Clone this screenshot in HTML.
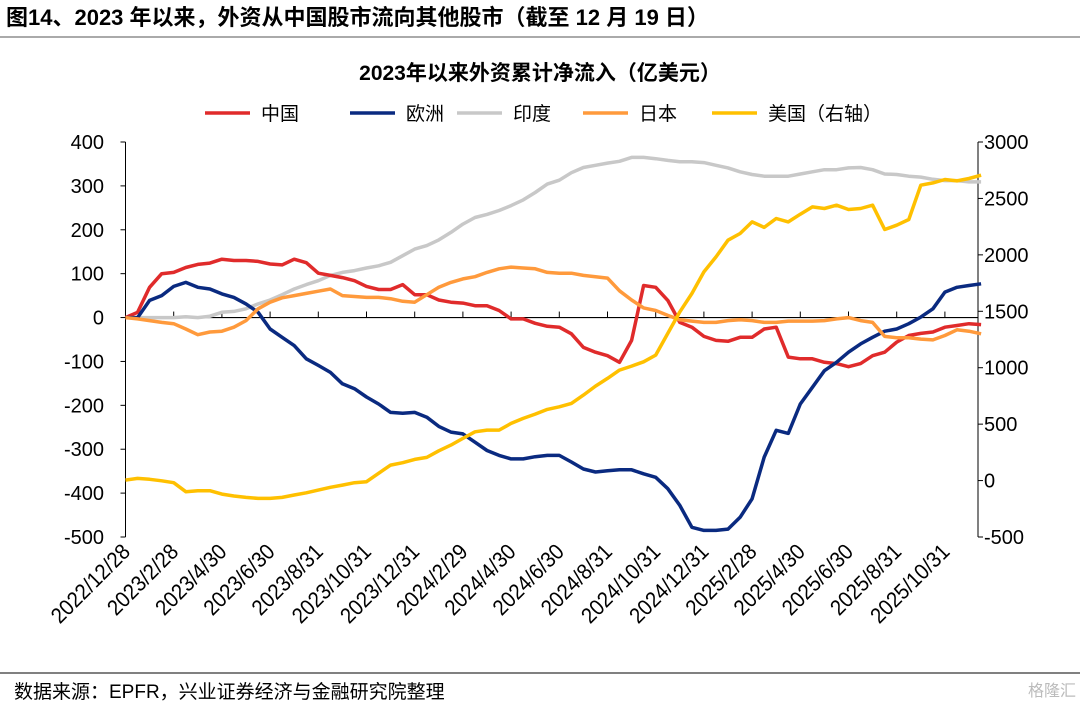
<!DOCTYPE html>
<html><head><meta charset="utf-8">
<style>
body{margin:0;background:#fff;width:1080px;height:706px;overflow:hidden;font-family:"Liberation Sans","Noto Sans CJK SC",sans-serif;}
</style></head>
<body>
<svg id="chart" width="1080" height="706" xmlns="http://www.w3.org/2000/svg" font-family="Liberation Sans, Noto Sans CJK SC, sans-serif">
<text x="6" y="25" font-size="22" font-weight="bold" fill="#000">图14、2023 年以来，外资从中国股市流向其他股市（截至 12 月 19 日）</text>
<line x1="0" y1="37" x2="1080" y2="37" stroke="#555" stroke-width="1"/>
<text x="540" y="80" text-anchor="middle" font-size="21" font-weight="bold" fill="#000">2023年以来外资累计净流入（亿美元）</text>
<g id="legend"></g>
<g id="axes"></g>
<g id="series"></g>
<line x1="0" y1="673" x2="1080" y2="673" stroke="#000" stroke-width="1"/>
<text x="14" y="698" font-size="19" fill="#000">数据来源：EPFR，兴业证券经济与金融研究院整理</text>
<text x="1076" y="696" text-anchor="end" font-size="16" fill="#bbb">格隆汇</text>
</svg>
<script>
const dateLabels=["2022/12/28","2023/2/28","2023/4/30","2023/6/30","2023/8/31","2023/10/31","2023/12/31","2024/2/29","2024/4/30","2024/6/30","2024/8/31","2024/10/31","2024/12/31","2025/2/28","2025/4/30","2025/6/30","2025/8/31","2025/10/31"];
const leftTicks=[400,300,200,100,0,-100,-200,-300,-400,-500];
const rightTicks=[3000,2500,2000,1500,1000,500,0,-500];
const seriesNames=["中国","欧洲","印度","日本","美国（右轴）"];
const china=[0,12,69,100,103,114,121,124,133,130,130,128,122,120,133,125,101,96,91,84,71,64,64,75,52,52,40,35,33,27,27,16,-3,-3,-13,-20,-22,-37,-68,-79,-87,-102,-52,73,69,39,-11,-22,-43,-52,-54,-45,-45,-26,-22,-90,-94,-94,-102,-105,-112,-105,-87,-79,-56,-41,-36,-33,-22,-18,-14,-16];
const europe=[0,0,39,50,71,80,69,65,54,46,31,12,-26,-45,-64,-94,-109,-125,-151,-162,-181,-197,-216,-218,-216,-227,-248,-261,-265,-284,-303,-314,-322,-322,-317,-314,-314,-329,-345,-352,-349,-347,-347,-356,-364,-390,-428,-478,-485,-485,-482,-455,-413,-318,-257,-264,-197,-159,-121,-102,-79,-60,-45,-31,-26,-14,1,20,58,69,73,77];
const india=[0,0,0,0,0,2,0,3,12,14,20,31,40,52,65,75,84,96,103,107,113,118,126,141,156,164,177,194,213,228,235,244,255,268,285,304,313,330,342,347,352,356,365,365,362,358,355,355,353,347,341,332,326,322,322,322,327,332,337,337,341,342,337,327,326,322,320,315,312,312,309,309];
const japan=[0,-3,-7,-11,-14,-26,-39,-33,-31,-22,-7,20,35,45,50,55,60,65,50,48,46,46,43,37,35,52,69,80,88,93,103,111,115,113,111,103,101,101,96,93,90,61,40,22,16,5,-5,-8,-11,-11,-7,-5,-7,-11,-11,-8,-8,-8,-7,-3,0,-7,-11,-43,-46,-46,-49,-51,-41,-28,-31,-37];
const usa=[4,19,11,-2,-19,-99,-90,-90,-120,-137,-149,-158,-158,-149,-128,-108,-84,-60,-40,-19,-10,64,137,158,188,205,264,314,374,432,447,447,507,551,589,631,654,684,757,837,905,979,1014,1052,1112,1304,1495,1658,1849,1982,2130,2189,2292,2243,2322,2292,2360,2425,2411,2440,2402,2411,2440,2225,2263,2313,2617,2638,2668,2655,2677,2706];
const colors=["#e02b2b","#0a2a80","#c8c8c8","#ff9a3c","#ffc000"];

const NS="http://www.w3.org/2000/svg";
const X0=125.5,X1=978,YT=142,YB=537,STEP=0.5,MONTHPX=24.1;
function xT(i){return X0+i*STEP*MONTHPX;}
function yL(v){return YT+(400-v)/900*(YB-YT);}
function yR(v){return YT+(3000-v)/3500*(YB-YT);}
function mk(tag,attrs,parent){const e=document.createElementNS(NS,tag);for(const k in attrs)e.setAttribute(k,attrs[k]);parent.appendChild(e);return e;}
const axes=document.getElementById('axes'),ser=document.getElementById('series'),leg=document.getElementById('legend');

let la=mk('line',{x1:X0,y1:YT,x2:X0,y2:YB,stroke:'#000','stroke-width':1},axes);


leftTicks.forEach(v=>{const y=yL(v);
 mk('line',{x1:X0-5,y1:y,x2:X0,y2:y,stroke:'#000'},axes);
 const t=mk('text',{x:104,y:y+7,'text-anchor':'end','font-size':20,fill:'#000'},axes);t.textContent=v;
 
 });
let ra=mk('line',{x1:X1,y1:YT,x2:X1,y2:YB,stroke:'#000','stroke-width':1},axes);


rightTicks.forEach(v=>{const y=yR(v);
 mk('line',{x1:X1,y1:y,x2:X1+5,y2:y,stroke:'#000'},axes);
 const t=mk('text',{x:984,y:y+7,'font-size':20,fill:'#000'},axes);t.textContent=v;
 
 });
const y0=yL(0);
let xa=mk('line',{x1:X0,y1:y0,x2:X1,y2:y0,stroke:'#000','stroke-width':1.2},axes);


dateLabels.forEach((d,k)=>{const x=X0+k*2*MONTHPX;
 mk('line',{x1:x,y1:y0-6,x2:x,y2:y0,stroke:'#000'},axes);
 const t=mk('text',{x:0,y:0,'text-anchor':'end','font-size':22,fill:'#000',transform:`translate(${x+6},${553}) rotate(-45) scale(0.92,1)`},axes);t.textContent=d;
 
 });

const data=[china,europe,india,japan,usa];
const sn=['china-line','europe-line','india-line','japan-line','usa-line'];
data.forEach((arr,s)=>{const f=s===4?yR:yL;
 const pts=arr.map((v,i)=>xT(i).toFixed(1)+','+f(v).toFixed(1)).join(' ');
 const p=mk('polyline',{points:pts,fill:'none',stroke:colors[s],'stroke-width':3.5,'stroke-linejoin':'round'},ser);
 
 });
ser.insertBefore(ser.children[2],ser.firstChild);

const lx=[205,350,457,583,712];
seriesNames.forEach((n,s)=>{const g=mk('g',{},leg);
 
 
 mk('line',{x1:lx[s],y1:113,x2:lx[s]+45,y2:113,stroke:colors[s],'stroke-width':3.5},g);
 const t=mk('text',{x:lx[s]+56,y:120,'font-size':19,fill:'#000'},g);t.textContent=n;});
</script>
</body></html>
